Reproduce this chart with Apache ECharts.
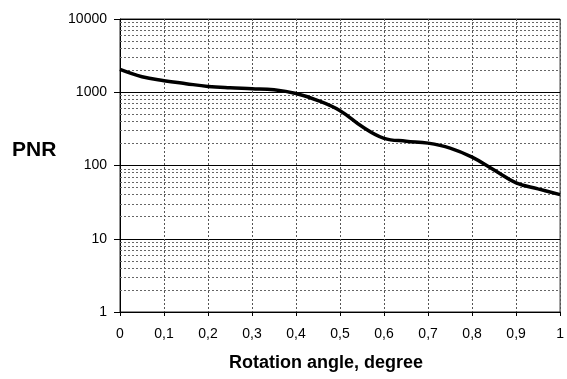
<!DOCTYPE html>
<html><head><meta charset="utf-8">
<script src="https://cdn.jsdelivr.net/npm/echarts@6/dist/echarts.min.js"></script>
<style>html,body{margin:0;padding:0;background:#fff}#c{width:567px;height:379px}</style>
</head><body><div id="c"></div>
<script>
const angles = [0,0.05,0.1,0.15,0.2,0.25,0.3,0.35,0.4,0.45,0.5,0.55,0.6,0.65,0.7,0.75,0.8,0.85,0.9,0.95,1.0];
const pnr = [2050,1630,1440,1310,1200,1150,1120,1080,960,770,560,340,235,215,202,173,130,87,58,48,40];
const yTicks = [1,10,100,1000,10000];
const minorY = [];
for (let d = 1; d < 10000; d *= 10) for (let k = 2; k <= 9; k++) minorY.push(d * k);

const chart = echarts.init(document.getElementById('c'));
chart.setOption({
  animation: false,
  grid: {left: 120, right: 6, top: 19, bottom: 67, show: true, borderColor: '#222', borderWidth: 1},
  xAxis: {
    type: 'value', min: 0, max: 1, interval: 0.1,
    axisLine: {lineStyle: {color: '#000', width: 1}},
    axisTick: {show: true, inside: false, length: 4, lineStyle: {color: '#000'}},
    axisLabel: {color: '#000', fontSize: 14, fontFamily: 'Liberation Sans, Arial', margin: 15,
      formatter: v => String(Math.round(v * 10) / 10).replace('.', ',')},
    splitLine: {show: true, lineStyle: {color: '#555', type: [2, 2], width: 1}}
  },
  yAxis: {
    type: 'log', logBase: 10, min: 1, max: 10000,
    axisLine: {show: true, lineStyle: {color: '#000', width: 1}},
    axisTick: {show: true, length: 6, lineStyle: {color: '#000'}},
    axisLabel: {color: '#000', fontSize: 14, fontFamily: 'Liberation Sans, Arial', margin: 13,
      formatter: v => String(yTicks.find(t => Math.abs(t - v) < t * 1e-6) || Math.round(v))},
    splitLine: {show: true, lineStyle: {color: '#000', width: 1}}
  },
  series: [{
    type: 'line', data: angles.map((a, i) => [a, pnr[i]]), smooth: 0.4, showSymbol: false,
    lineStyle: {color: '#000', width: 3.5}, z: 5,
    markLine: {
      silent: true, symbol: 'none', label: {show: false},
      lineStyle: {color: '#666', type: [2, 2], width: 1},
      data: minorY.map(v => ({yAxis: v})), z: 1
    }
  }],
  graphic: [
    {type: 'text', left: 12, top: 140, style: {text: 'PNR', fontSize: 21, fontWeight: 'bold', fontFamily: 'Liberation Sans, Arial', fill: '#000'}},
    {type: 'text', left: 229, top: 354, style: {text: 'Rotation angle, degree', fontSize: 18, fontWeight: 'bold', fontFamily: 'Liberation Sans, Arial', fill: '#000'}}
  ]
});
</script></body></html>
